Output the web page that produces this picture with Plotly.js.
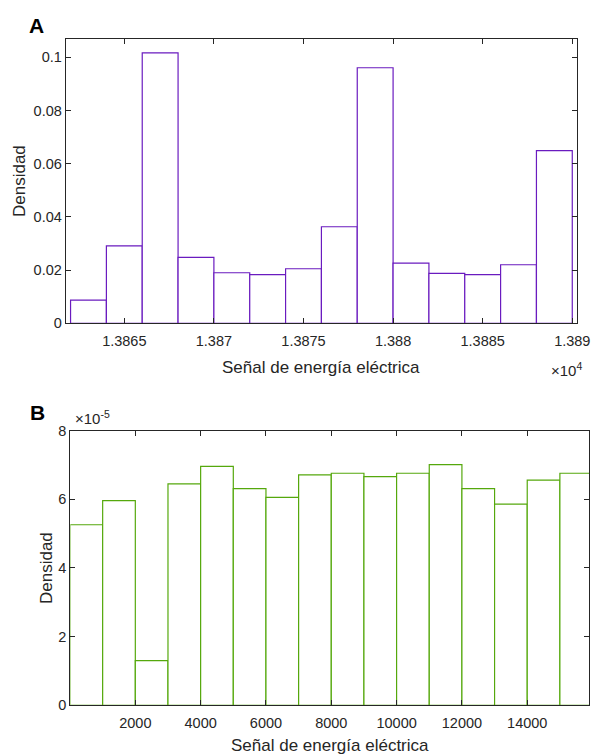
<!DOCTYPE html>
<html>
<head>
<meta charset="utf-8">
<script src="https://cdn.plot.ly/plotly-3.0.1.min.js"></script>
<style>html,body{margin:0;padding:0;background:#fff;}#chart{width:591px;height:756px;}</style>
</head>
<body>
<div id="chart"></div>
<script>
// Panel A: histogram bin edges and densities
var edgesA = [13862,13864,13866,13868,13870,13872,13874,13876,13878,13880,13882,13884,13886,13888,13890];
var densA  = [0.0087,0.0291,0.1017,0.0248,0.0190,0.0183,0.0205,0.0363,0.0961,0.0226,0.0188,0.0183,0.0220,0.0649];
var tickValsA = [13865,13870,13875,13880,13885,13890];
var tickTextA = ['1.3865','1.387','1.3875','1.388','1.3885','1.389'];
var yTickValsA = [0,0.02,0.04,0.06,0.08,0.1];
var yTickTextA = ['0','0.02','0.04','0.06','0.08','0.1'];

// Panel B: histogram bin edges and densities (x 1e-5)
var edgesB = [0,1000,2000,3000,4000,5000,6000,7000,8000,9000,10000,11000,12000,13000,14000,15000,16000];
var densB  = [5.26e-5,5.96e-5,1.30e-5,6.45e-5,6.96e-5,6.31e-5,6.06e-5,6.71e-5,6.76e-5,6.66e-5,6.76e-5,7.01e-5,6.31e-5,5.86e-5,6.56e-5,6.76e-5];
var tickValsB = [2000,4000,6000,8000,10000,12000,14000];
var tickTextB = ['2000','4000','6000','8000','10000','12000','14000'];
var yTickValsB = [0,2e-5,4e-5,6e-5,8e-5];
var yTickTextB = ['0','2','4','6','8'];

var xTitle = 'Señal de energía eléctrica';
var yTitle = 'Densidad';

function centers(e){var c=[];for(var i=0;i<e.length-1;i++){c.push((e[i]+e[i+1])/2);}return c;}
function widths(e){var w=[];for(var i=0;i<e.length-1;i++){w.push(e[i+1]-e[i]);}return w;}

var purple = '#6A1BBF';
var green = '#55A80C';
var axCol = '#262626';
var font = 'Liberation Sans, Arial, Helvetica, sans-serif';

var traceA = {type:'bar', x:centers(edgesA), y:densA, width:widths(edgesA),
  marker:{color:'rgba(255,255,255,1)', line:{color:purple, width:1.2}},
  xaxis:'x', yaxis:'y', hoverinfo:'x+y'};
var traceB = {type:'bar', x:centers(edgesB), y:densB, width:widths(edgesB),
  marker:{color:'rgba(255,255,255,1)', line:{color:green, width:1.2}},
  xaxis:'x2', yaxis:'y2', hoverinfo:'x+y'};

function axBase(){
  return {showline:true, linecolor:axCol, linewidth:1, mirror:'ticks', ticks:'inside',
    ticklen:5, tickwidth:1, tickcolor:axCol, showgrid:false, zeroline:false,
    tickfont:{family:font, size:14.5, color:axCol}, tickmode:'array', fixedrange:true,
    ticklabeloverflow:'allow'};
}

var xa = axBase(); xa.domain=[0.1112,0.9768]; xa.range=[13861.73,13890.28]; xa.tickvals=tickValsA; xa.ticktext=tickTextA; xa.anchor='y'; xa.ticklabelstandoff=4;
var ya = axBase(); ya.domain=[0.5724,0.948]; ya.range=[0,0.1068]; ya.tickvals=yTickValsA; ya.ticktext=yTickTextA; ya.anchor='x';
var xb = axBase(); xb.domain=[0.119,0.9971]; xb.range=[10,15900]; xb.tickvals=tickValsB; xb.ticktext=tickTextB; xb.anchor='y2'; xb.ticklabelstandoff=4;
var yb = axBase(); yb.domain=[0.0671,0.4303]; yb.range=[0,8e-5]; yb.tickvals=yTickValsB; yb.ticktext=yTickTextB; yb.anchor='x2';

var tf = {family:font, size:17, color:axCol};
var layout = {
  width:591, height:756, margin:{l:0,r:0,t:0,b:0}, showlegend:false,
  paper_bgcolor:'#fff', plot_bgcolor:'#fff', bargap:0,
  xaxis:xa, yaxis:ya, xaxis2:xb, yaxis2:yb,
  annotations:[
    {text:'<b>A</b>', xref:'paper', yref:'paper', x:36/591, y:1-25.5/756, showarrow:false, xanchor:'center', yanchor:'middle', font:{family:font, size:21, color:'#000'}},
    {text:'<b>B</b>', xref:'paper', yref:'paper', x:37/591, y:1-412/756, showarrow:false, xanchor:'center', yanchor:'middle', font:{family:font, size:21, color:'#000'}},
    {text:xTitle, xref:'paper', yref:'paper', x:321/591, y:1-367/756, showarrow:false, xanchor:'center', yanchor:'middle', font:tf},
    {text:yTitle, xref:'paper', yref:'paper', x:19/591, y:1-181/756, showarrow:false, xanchor:'center', yanchor:'middle', textangle:-90, font:tf},
    {text:'×10<sup>4</sup>', xref:'paper', yref:'paper', x:566/591, y:1-369/756, showarrow:false, xanchor:'center', yanchor:'middle', font:{family:font, size:15, color:axCol}},
    {text:xTitle, xref:'paper', yref:'paper', x:330/591, y:1-745/756, showarrow:false, xanchor:'center', yanchor:'middle', font:tf},
    {text:yTitle, xref:'paper', yref:'paper', x:46/591, y:1-568/756, showarrow:false, xanchor:'center', yanchor:'middle', textangle:-90, font:tf},
    {text:'×10<sup>-5</sup>', xref:'paper', yref:'paper', x:92/591, y:1-417/756, showarrow:false, xanchor:'center', yanchor:'middle', font:{family:font, size:15, color:axCol}}
  ]
};

Plotly.newPlot('chart', [traceA, traceB], layout, {displayModeBar:false, staticPlot:true});
</script>
</body>
</html>
